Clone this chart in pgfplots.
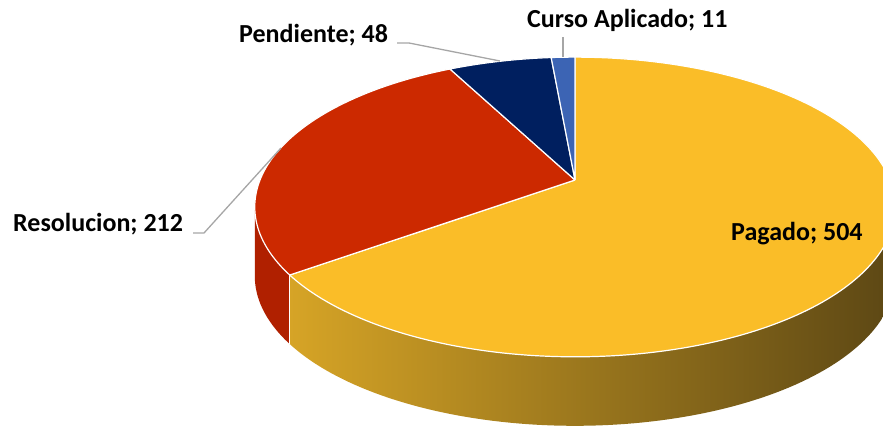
\documentclass[border=0pt]{standalone}
\usepackage{pgfplots}
\pgfplotsset{compat=1.18}
\usepackage{pgfplotstable}
\usepackage{fontspec}
\setmainfont{Carlito}
\definecolor{cGold}{RGB}{250,189,40}
\definecolor{cRed}{RGB}{204,41,0}
\definecolor{cRedWall}{RGB}{176,32,0}
\definecolor{cNavy}{RGB}{0,31,95}
\definecolor{cBlue}{RGB}{60,100,180}
\definecolor{wallL}{RGB}{214,164,38}
\definecolor{wallM}{RGB}{160,124,36}
\definecolor{wallR}{RGB}{92,71,20}
\definecolor{leader}{RGB}{166,166,166}
\pgfplotstableread{
label value
Pagado 504
Resolucion 212
Pendiente 48
CursoAplicado 11
}\datatable
\pgfplotstablegetelem{0}{value}\of\datatable \let\va\pgfplotsretval
\pgfplotstablegetelem{1}{value}\of\datatable \let\vb\pgfplotsretval
\pgfplotstablegetelem{2}{value}\of\datatable \let\vc\pgfplotsretval
\pgfplotstablegetelem{3}{value}\of\datatable \let\vd\pgfplotsretval
\pgfmathsetmacro\tot{\va+\vb+\vc+\vd}
\pgfmathsetmacro\aA{\va/\tot*360}
\pgfmathsetmacro\aB{\aA+\vb/\tot*360}
\pgfmathsetmacro\aC{\aB+\vc/\tot*360}
\pgfmathsetmacro\silR{acos(-0.18)}
\pgfmathsetmacro\silL{360-acos(-0.18)}
% rim point
\newcommand\rimX[1]{575+315*sin(#1)/(1+0.18*cos(#1))}
\newcommand\rimY[1]{249+145*cos(#1)/(1+0.18*cos(#1))}
% wall: t in [0,1] top rim a->b, t in [1.01,2.01] bottom rim b->a
\newcommand\wallTh[2]{(ifthenelse(\t<1.005,#1+(#2-#1)*\t,#2-(#2-#1)*(\t-1.01)))}
\newcommand\wallX[2]{575+315*sin(\wallTh{#1}{#2})/(1+0.18*cos(\wallTh{#1}{#2}))}
\newcommand\wallY[2]{249+145*cos(\wallTh{#1}{#2})/(1+0.18*cos(\wallTh{#1}{#2}))-ifthenelse(\t<1.005,0,69)}
% sector: apex at both ends
\newcommand\secRad{ifthenelse(\t<-0.0025,0,ifthenelse(\t>1.0025,0,1))}
\newcommand\secTh[2]{(#1+(#2-#1)*min(max(\t,0),1))}
\newcommand\secX[2]{575+\secRad*315*sin(\secTh{#1}{#2})/(1+0.18*cos(\secTh{#1}{#2}))}
\newcommand\secY[2]{249+\secRad*145*cos(\secTh{#1}{#2})/(1+0.18*cos(\secTh{#1}{#2}))}
\begin{document}
\begin{tikzpicture}
\clip (0,0) rectangle (883bp,429bp);
\begin{axis}[
  at={(0,0)}, anchor=south west,
  scale only axis, width=883bp, height=429bp,
  xmin=0, xmax=883, ymin=0, ymax=429,
  hide axis, clip=false,
  variable=\t,
]
% walls
\addplot[fill=cRedWall, draw=none, domain=0:2.01, samples=202] ({\wallX{\aA}{\silL}},{\wallY{\aA}{\silL}});
\addplot[left color=wallL, middle color=wallM, right color=wallR, draw=none, domain=0:2.01, samples=202] ({\wallX{\silR}{\aA}},{\wallY{\silR}{\aA}});
\addplot[white, line width=1.2bp, domain=0:69, samples=2, variable=\s] ({\rimX{\aA}},{\rimY{\aA}-\s});
% top face
\addplot[fill=cGold, draw=white, line width=1.2bp, domain=-0.005:1.005, samples=203] ({\secX{0}{\aA}},{\secY{0}{\aA}});
\addplot[fill=cRed, draw=white, line width=1.2bp, domain=-0.005:1.005, samples=203] ({\secX{\aA}{\aB}},{\secY{\aA}{\aB}});
\addplot[fill=cNavy, draw=white, line width=1.2bp, domain=-0.005:1.005, samples=203] ({\secX{\aB}{\aC}},{\secY{\aB}{\aC}});
\addplot[fill=cBlue, draw=white, line width=1.2bp, domain=-0.005:1.005, samples=203] ({\secX{\aC}{360}},{\secY{\aC}{360}});
% leader lines
\addplot[leader, line width=1.3bp] coordinates {(193,196) (204,196) (281,281)};
\addplot[leader, line width=1.3bp] coordinates {(397,386) (409,386) (500,368)};
\addplot[leader, line width=1.3bp] coordinates {(563,392) (563,372)};
% labels
\tikzset{lbl/.style={anchor=base west, inner sep=0pt, font=\bfseries\fontsize{26bp}{30bp}\selectfont}}
\node[lbl] at (axis cs:527,401) {Curso Aplicado; 11};
\node[lbl] at (axis cs:239,386) {Pendiente; 48};
\node[lbl] at (axis cs:13,197) {Resolucion; 212};
\node[lbl] at (axis cs:731,188) {Pagado; 504};
\end{axis}
\end{tikzpicture}
\end{document}
